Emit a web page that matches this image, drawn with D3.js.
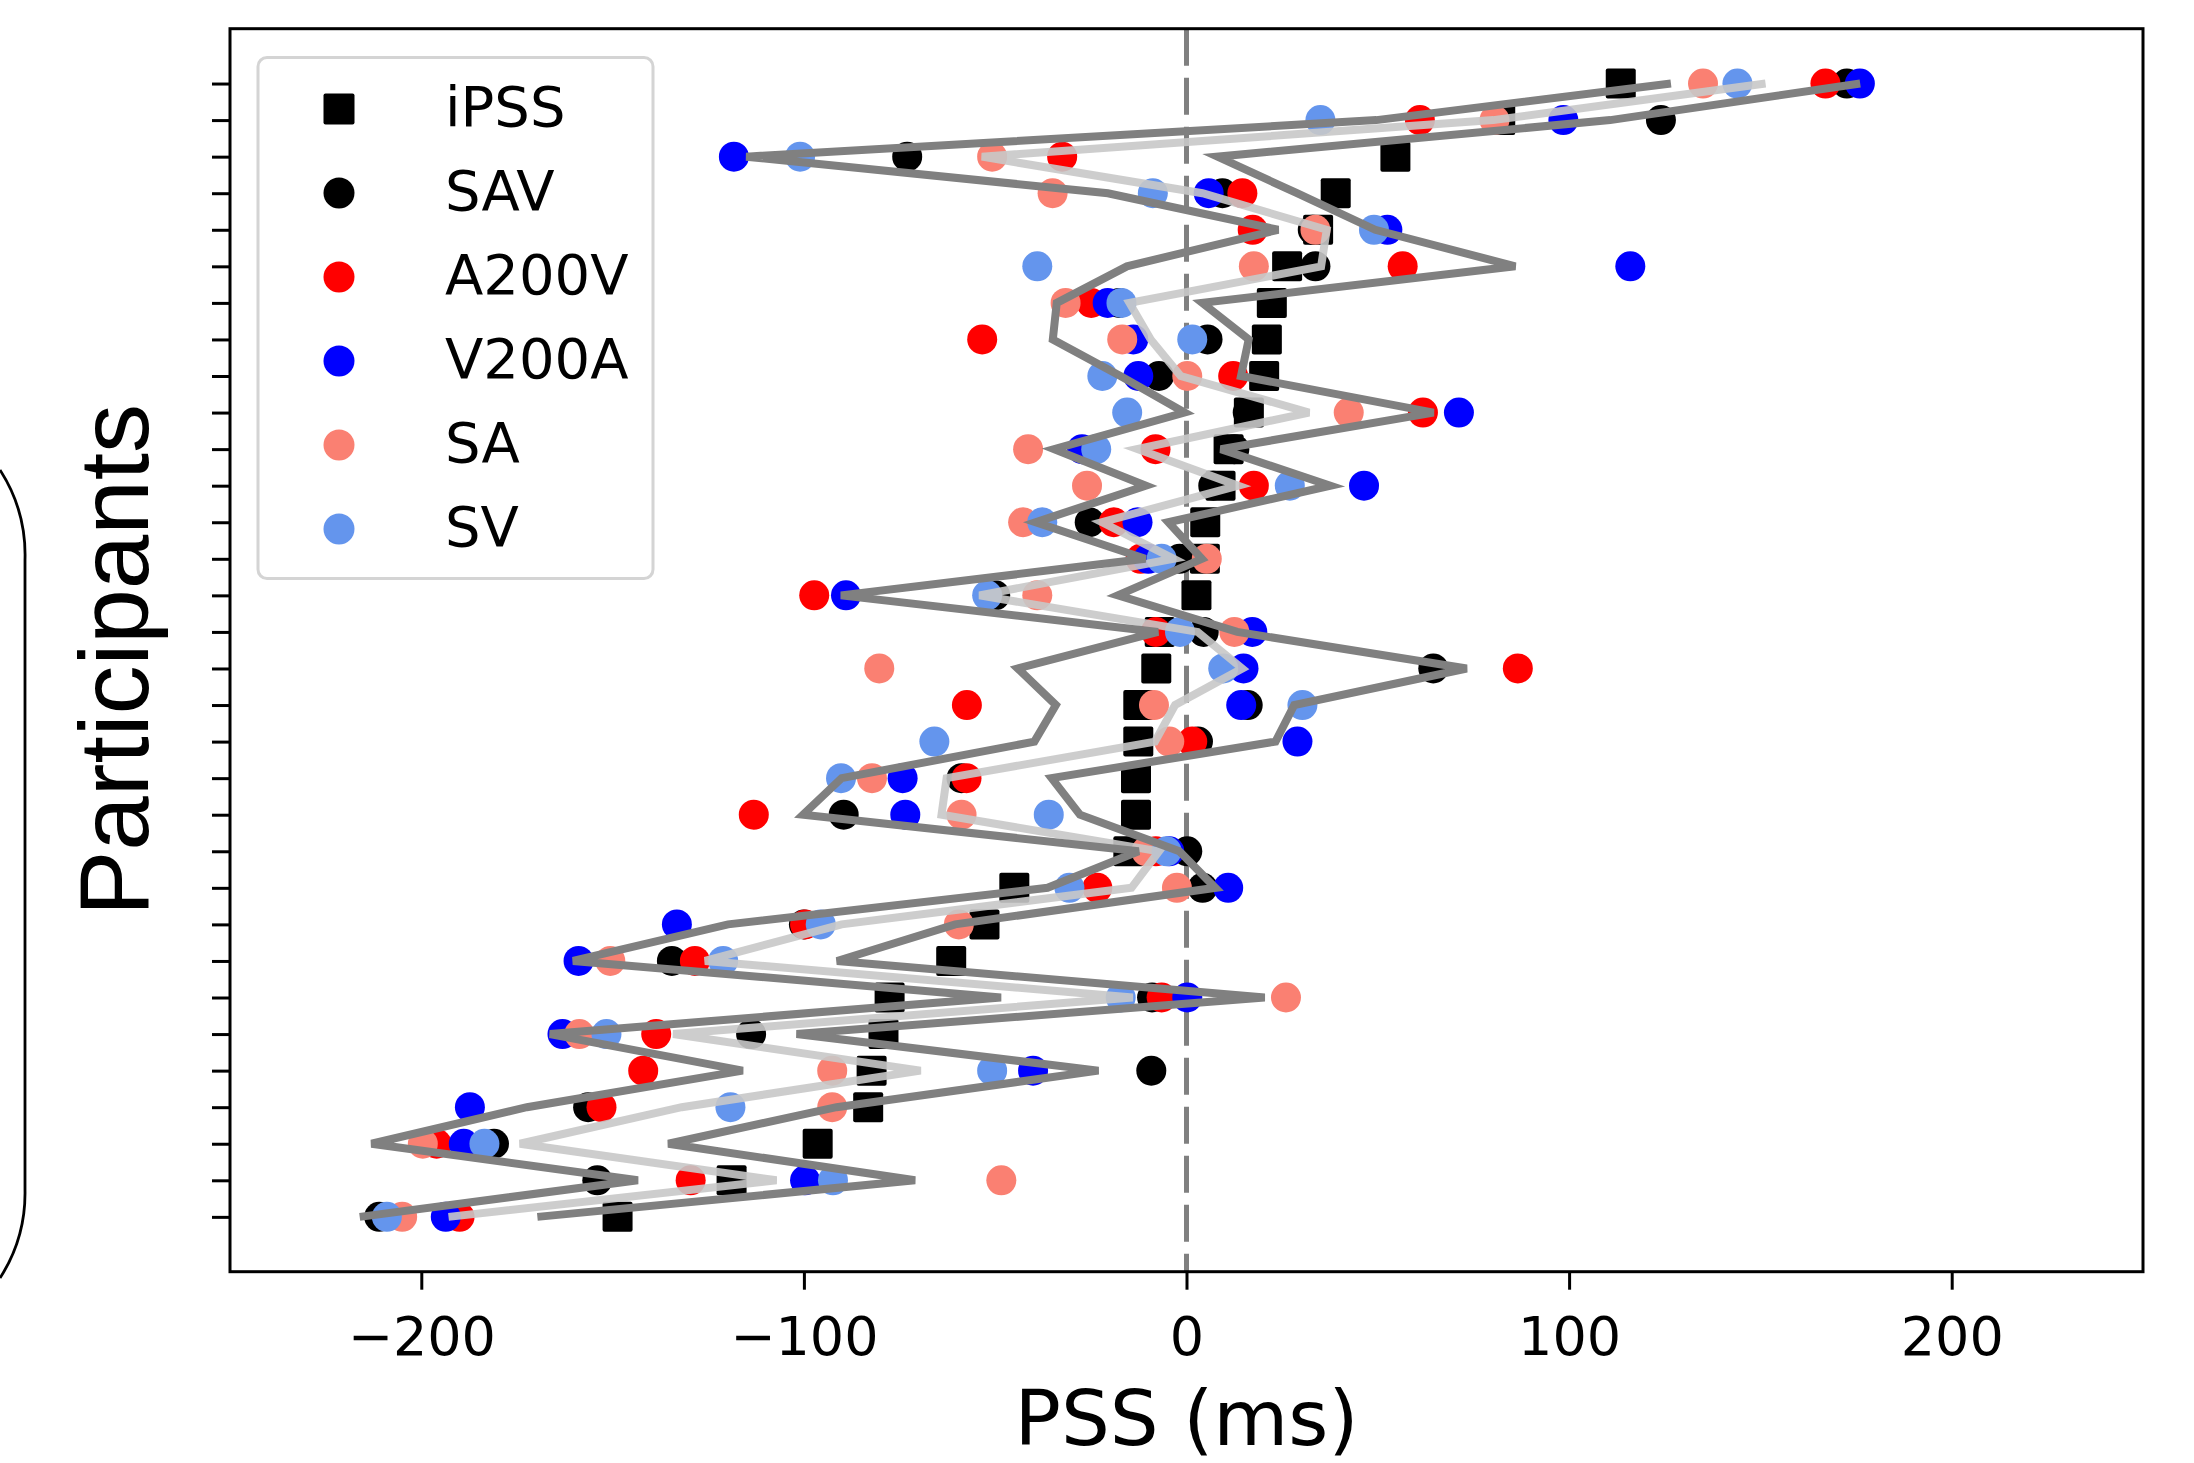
<!DOCTYPE html>
<html>
<head>
<meta charset="utf-8">
<script src="https://cdn.jsdelivr.net/npm/d3@7"></script>
<style>
html, body { margin: 0; padding: 0; background: #ffffff; }
svg { display: block; }
</style>
</head>
<body>
<svg id="chart" width="2194" height="1463"></svg>
<script>
// ---------------- DATA (participants listed top to bottom) ----------------
const participants = d3.range(32);
const iPSS  = [113.5, 82, 54.6, 39, 34.4, 26.3, 22.3, 21, 20.3, 16.3, 11, 8.9, 4.9, 4.8, 2.6, -7,
               -7.9, -12.6, -12.6, -13.2, -13.2, -15.2, -45, -52.8, -61.5, -77.6, -79.2, -82.3, -83.2, -96.4, -118.9, -148.7];
const SAV   = [172.6, 124, -73, 9.4, 33, 33.7, -17.6, 5.5, -7.2, 16, 12.5, 7, -25.3, -1.8, -50, 4.5,
               64.5, 16, 3, -58.8, -89.6, 0.2, 4.2, -100, -134.5, -9, -113.8, -9.2, -156.4, -181, -154, -211];
const A200V = [167, 61, -32.5, 14.6, 17.3, 56.5, -24.9, -53.4, 12.2, 61.8, -8.1, 17.6, -19, -12, -97.3, -8,
               86.6, -57.4, 1.5, -57.5, -113.1, -8, -23.3, -99.7, -128.5, -6.5, -138.6, -142, -152.9, -196, -129.6, -190];
const V200A = [176, 98.5, -118.3, 5.8, 52.5, 116, -20.6, -13.9, -12.6, 71.2, -27.3, 46.4, -12.8, -10, -89, 17.2,
               14.9, 14.3, 29, -74.2, -73.5, -4.5, 10.9, -133.2, -158.9, 0.2, -163.1, -40.1, -187.3, -188.9, -99.7, -193.6];
const SA    = [135, 80.5, -50.8, -35, 33.7, 17.6, -31.6, -16.8, 0.2, 42.4, -41.4, -26, -42.7, 5.3, -39, 12.5,
               -80.3, -8.5, -4.5, -82.2, -58.8, -10.5, -2.5, -59.5, -150.6, 26, -158.7, -92.6, -92.6, -199.6, -48.4, -205];
const SV    = [144, 35, -101, -8.8, 49, -39, -17, 1.5, -22, -15.5, -23.6, 27, -37.7, -6.5, -52.1, -1.7,
               9.6, 30.3, -65.9, -90.3, -36, -5.2, -30.6, -95.6, -121.1, -17.2, -151.6, -50.8, -119.2, -183.5, -92.4, -209];
const xTicks = [-200, -100, 0, 100, 200];
const seriesNames  = ["iPSS", "SAV", "A200V", "V200A", "SA", "SV"];
const seriesValues = [iPSS, SAV, A200V, V200A, SA, SV];
const seriesColors = ["#000000", "#000000", "#ff0000", "#0000ff", "#fa8072", "#6495ed"];
const seriesShapes = ["square", "circle", "circle", "circle", "circle", "circle"];

// ---------------- LAYOUT ----------------
const L = 230, R = 2143, T = 28.7, B = 1271.7;
const svg = d3.select("#chart");
svg.append("rect").attr("width", 2194).attr("height", 1463).attr("fill", "#fff");

const x = d3.scaleLinear().domain([-250, 250]).range([L, R]);
const y = d3.scaleLinear().domain([-1.5, 32.5]).range([T, B]);

// zero reference line
svg.append("line")
  .attr("x1", x(0)).attr("x2", x(0)).attr("y1", T).attr("y2", B)
  .attr("stroke", "#808080").attr("stroke-width", 5)
  .attr("stroke-dasharray", "37,12");

// points
const R_PT = 15, SQ = 30;
seriesValues.forEach((vals, si) => {
  const g = svg.append("g").attr("class", "series-" + seriesNames[si]);
  if (seriesShapes[si] === "square") {
    g.selectAll("rect").data(participants).join("rect")
      .attr("x", i => x(vals[i]) - SQ / 2)
      .attr("y", i => y(i) - SQ / 2)
      .attr("width", SQ).attr("height", SQ).attr("rx", 2)
      .attr("fill", seriesColors[si]);
  } else {
    g.selectAll("circle").data(participants).join("circle")
      .attr("cx", i => x(vals[i]))
      .attr("cy", i => y(i))
      .attr("r", R_PT)
      .attr("fill", seriesColors[si]);
  }
});

// mean and mean ± SD across the six measures for each participant
const stats = participants.map(i => {
  const v = seriesValues.map(s => s[i]);
  const m = d3.mean(v), sd = d3.deviation(v);
  return { i, m, lo: m - sd, hi: m + sd };
});
const lineGen = key => d3.line().x(d => x(d[key])).y(d => y(d.i));

svg.append("path").datum(stats).attr("d", lineGen("m"))
  .attr("fill", "none").attr("stroke", "#c8c8c8").attr("stroke-opacity", 0.9)
  .attr("stroke-width", 8).attr("stroke-linejoin", "miter");
["lo", "hi"].forEach(k => {
  svg.append("path").datum(stats).attr("d", lineGen(k))
    .attr("fill", "none").attr("stroke", "#808080")
    .attr("stroke-width", 8).attr("stroke-linejoin", "miter");
});

// axes
const xAxis = svg.append("g").attr("transform", `translate(0,${B})`)
  .call(d3.axisBottom(x).tickValues(xTicks).tickSize(18).tickPadding(27));
xAxis.select(".domain").remove();
xAxis.selectAll(".tick line").attr("stroke", "#000").attr("stroke-width", 3);
xAxis.selectAll(".tick text").attr("font-family", "DejaVu Sans")
  .attr("font-size", 54).attr("fill", "#000");

const yAxis = svg.append("g").attr("transform", `translate(${L},0)`)
  .call(d3.axisLeft(y).tickValues(participants).tickSize(18).tickFormat(""));
yAxis.select(".domain").remove();
yAxis.selectAll(".tick line").attr("stroke", "#000").attr("stroke-width", 3);

// frame
svg.append("rect").attr("x", L).attr("y", T).attr("width", R - L).attr("height", B - T)
  .attr("fill", "none").attr("stroke", "#000").attr("stroke-width", 3);

// axis labels
svg.append("text").attr("x", (L + R) / 2).attr("y", 1445)
  .attr("text-anchor", "middle").attr("font-family", "DejaVu Sans")
  .attr("font-size", 77).attr("fill", "#000").text("PSS (ms)");
svg.append("text").attr("transform", "translate(148,660) rotate(-90)")
  .attr("text-anchor", "middle").attr("font-family", "Liberation Sans")
  .attr("font-size", 98).attr("fill", "#000").text("Participants");

// partial bracket at left edge
svg.append("path")
  .attr("d", "M0,470 A157,157 0 0 1 25,560 L25,1190 A157,157 0 0 1 0,1278")
  .attr("fill", "none").attr("stroke", "#000").attr("stroke-width", 2.8);

// legend
const lg = svg.append("g");
lg.append("rect").attr("x", 258).attr("y", 57.5).attr("width", 395).attr("height", 521)
  .attr("rx", 9).attr("fill", "#fff").attr("fill-opacity", 0.8)
  .attr("stroke", "#d4d4d4").attr("stroke-width", 3);
seriesNames.forEach((name, si) => {
  const cy = 109 + si * 84;
  if (seriesShapes[si] === "square") {
    lg.append("rect").attr("x", 339 - 15.5).attr("y", cy - 15.5)
      .attr("width", 31).attr("height", 31).attr("rx", 2).attr("fill", seriesColors[si]);
  } else {
    lg.append("circle").attr("cx", 339).attr("cy", cy).attr("r", 15.5).attr("fill", seriesColors[si]);
  }
  lg.append("text").attr("x", 445).attr("y", cy + 17)
    .attr("font-family", "DejaVu Sans").attr("font-size", 56).attr("fill", "#000").text(name);
});
</script>
</body>
</html>
